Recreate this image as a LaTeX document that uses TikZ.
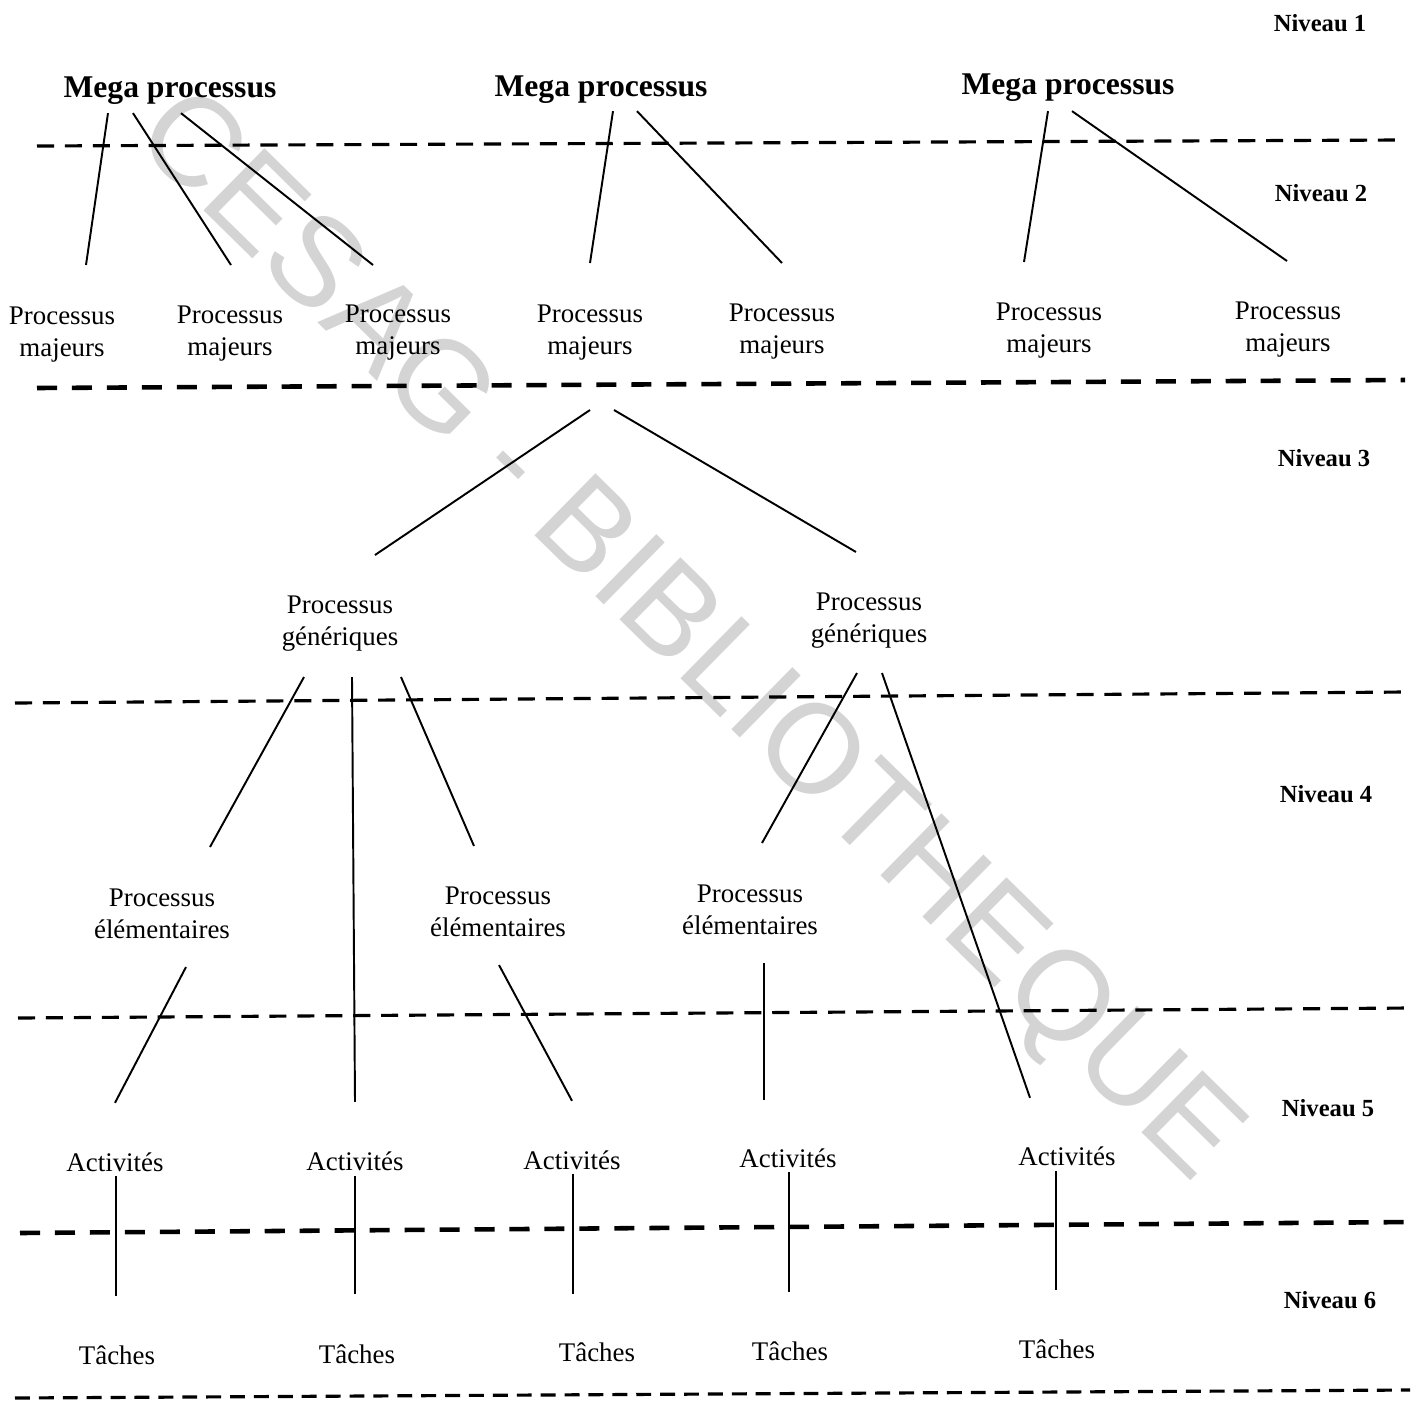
\documentclass[tikz,border=0pt]{standalone}
\usepackage{fontspec}
\setmainfont{Liberation Serif}
\newfontfamily\wmfont{Liberation Sans}
\usepackage{tikz}
\usetikzlibrary{calc}

\begin{document}
\begin{tikzpicture}[x=0.02cm, y=-0.02cm,
    txt/.style={align=center, inner sep=0pt, font=\fontsize{15.3}{18.2}\selectfont},
    mega/.style={anchor=base, inner sep=0pt, font=\fontsize{18}{20}\selectfont\bfseries},
    niv/.style={anchor=base, inner sep=0pt, font=\fontsize{14}{16}\selectfont\bfseries},
    sep/.style={line width=1.8pt, dash pattern=on 9.7pt off 6.2pt},
    bigsep/.style={line width=2.6pt, dash pattern=on 11.4pt off 8.5pt},
    link/.style={line width=1.1pt}]
        \useasboundingbox (0,0) rectangle (1417,1401);

        % Watermark
        \node[anchor=base, rotate=-44.5, text=black!17, inner sep=0pt,
              font=\fontsize{72}{80}\selectfont\wmfont] (wm) at (663,662) {CESAG - BIBLIOTHEQUE};

        % Level labels
        \node[niv] (niv1) at (1320,31) {Niveau 1};
        \node[niv] (niv2) at (1321,201) {Niveau 2};
        \node[niv] (niv3) at (1324,466) {Niveau 3};
        \node[niv] (niv4) at (1326,802) {Niveau 4};
        \node[niv] (niv5) at (1328,1116) {Niveau 5};
        \node[niv] (niv6) at (1330,1308) {Niveau 6};

        % Separators
        \draw[sep] (37,146) -- (1400,140);
        \draw[bigsep] (37,388) -- (1405,380);
        \draw[sep] (15,703) -- (1405,692);
        \draw[sep] (18,1018) -- (1410,1008);
        \draw[bigsep] (20,1233) -- (1412,1222);
        \draw[sep, dash pattern=on 8.5pt off 5.1pt] (15,1398) -- (1410,1390);

        % Mega processus
        \node[mega] (m1) at (170,97) {Mega processus};
        \node[mega] (m2) at (601,96) {Mega processus};
        \node[mega] (m3) at (1068,94) {Mega processus};

        % Processus majeurs
        \node[txt] (pm1) at (62,335) {Processus\\majeurs};
        \node[txt] (pm2) at (230,334) {Processus\\majeurs};
        \node[txt] (pm3) at (398,333) {Processus\\majeurs};
        \node[txt] (pm4) at (590,333) {Processus\\majeurs};
        \node[txt] (pm5) at (782,332) {Processus\\majeurs};
        \node[txt] (pm6) at (1049,331) {Processus\\majeurs};
        \node[txt] (pm7) at (1288,330) {Processus\\majeurs};

        % Processus generiques
        \node[txt] (pg1) at (340,624) {Processus\\génériques};
        \node[txt] (pg2) at (869,621) {Processus\\génériques};

        % Processus elementaires
        \node[txt] (pe1) at (162,914) {Processus\\élémentaires};
        \node[txt] (pe2) at (498,912) {Processus\\élémentaires};
        \node[txt] (pe3) at (750,910) {Processus\\élémentaires};

        % Activites and taches
        \node[txt, anchor=base] (act1) at (115,1171) {Activités};
        \node[txt, anchor=base] (act2) at (355,1170) {Activités};
        \node[txt, anchor=base] (act3) at (572,1169) {Activités};
        \node[txt, anchor=base] (act4) at (788,1167) {Activités};
        \node[txt, anchor=base] (act5) at (1067,1165) {Activités};
        \node[txt, anchor=base] (tac1) at (117,1364) {Tâches};
        \node[txt, anchor=base] (tac2) at (357,1363) {Tâches};
        \node[txt, anchor=base] (tac3) at (597,1361) {Tâches};
        \node[txt, anchor=base] (tac4) at (790,1360) {Tâches};
        \node[txt, anchor=base] (tac5) at (1057,1358) {Tâches};

        % Level 1 -> level 2
        \draw[link] ($(m1)+(-62,23)$) -- ($(pm1)+(24,-70)$);
        \draw[link] ($(m1)+(-37,23)$) -- ($(pm2)+(1,-69)$);
        \draw[link] ($(m1)+(11,23)$) -- ($(pm3)+(-25,-68)$);
        \draw[link] ($(m2)+(12,22)$) -- ($(pm4)+(0,-70)$);
        \draw[link] ($(m2)+(36,22)$) -- ($(pm5)+(0,-69)$);
        \draw[link] ($(m3)+(-20,24)$) -- ($(pm6)+(-25,-69)$);
        \draw[link] ($(m3)+(4,24)$) -- ($(pm7)+(-1,-69)$);

        % Level 2 -> level 3
        \draw[link] ($(pm4)+(0,77)$) -- ($(pg1)+(35,-69)$);
        \draw[link] ($(pm4)+(24,77)$) -- ($(pg2)+(-13,-69)$);

        % Level 3 -> levels 4 and 5
        \draw[link] ($(pg1)+(-36,53)$) -- ($(pe1)+(48,-67)$);
        \draw[link] ($(pg1)+(12,53)$) -- ($(act2)+(0,-59)$);
        \draw[link] ($(pg1)+(61,53)$) -- ($(pe2)+(-24,-66)$);
        \draw[link] ($(pg2)+(-12,52)$) -- ($(pe3)+(12,-67)$);
        \draw[link] ($(pg2)+(13,52)$) -- ($(act5)+(-37,-58)$);

        % Level 4 -> level 5
        \draw[link] ($(pe1)+(24,53)$) -- ($(act1)+(0,-59)$);
        \draw[link] ($(pe2)+(1,53)$) -- ($(act3)+(0,-59)$);
        \draw[link] ($(pe3)+(14,53)$) -- ($(act4)+(-24,-58)$);

        % Level 5 -> level 6
        \draw[link] ($(act1)+(1,14)$) -- ($(tac1)+(-1,-59)$);
        \draw[link] ($(act2)+(0,15)$) -- ($(tac2)+(-2,-60)$);
        \draw[link] ($(act3)+(1,14)$) -- ($(tac3)+(-24,-58)$);
        \draw[link] ($(act4)+(1,14)$) -- ($(tac4)+(-1,-59)$);
        \draw[link] ($(act5)+(-11,15)$) -- ($(tac5)+(-1,-59)$);
\end{tikzpicture}
\end{document}
